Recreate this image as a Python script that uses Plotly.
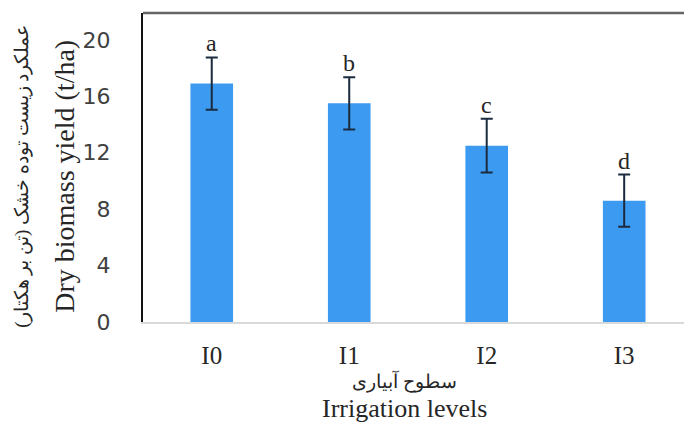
import plotly.graph_objects as go

# Irrigation treatments and dry biomass yield (t/ha)
levels = ["I0", "I1", "I2", "I3"]
yield_t_ha = [16.9, 15.5, 12.5, 8.6]
yield_err = [1.85, 1.85, 1.9, 1.85]
group_letters = ["a", "b", "c", "d"]
y_ticks = [0, 4, 8, 12, 16, 20]

BAR_BLUE = "#3c9bf0"
ERR_COLOR = "#1b2b3f"
TEXT = "#262626"
SERIF = "Times New Roman, Liberation Serif, DejaVu Serif, serif"
SANS = "DejaVu Sans, Liberation Sans, Arial, sans-serif"

fig = go.Figure()

fig.add_trace(go.Bar(
    x=list(range(len(levels))),
    y=yield_t_ha,
    width=0.31,
    marker=dict(color=BAR_BLUE, line=dict(width=0)),
    error_y=dict(type="data", array=yield_err, visible=True,
                 color=ERR_COLOR, thickness=2, width=6),
    showlegend=False,
    hoverinfo="skip",
))

# significance letters above each error bar
for i, (v, e, lt) in enumerate(zip(yield_t_ha, yield_err, group_letters)):
    fig.add_annotation(
        x=i, y=v + e, text=lt, showarrow=False,
        yanchor="bottom", yshift=-1,
        font=dict(family=SERIF, size=24, color=TEXT),
    )

# x axis titles (Persian + English)
fig.add_annotation(
    xref="paper", yref="paper", x=0.484, y=0, yshift=-59,
    text="سطوح آبیاری", showarrow=False, yanchor="middle",
    font=dict(family=SERIF, size=19, color=TEXT),
)
fig.add_annotation(
    xref="paper", yref="paper", x=0.484, y=0, yshift=-86,
    text="Irrigation levels", showarrow=False, yanchor="middle",
    font=dict(family=SERIF, size=26, color=TEXT),
)

# y axis titles (Persian + English), rotated
fig.add_annotation(
    xref="paper", yref="paper", x=0, xshift=-121, y=0.47,
    text="عملکرد زیست توده خشک (تن بر هکتار)", showarrow=False,
    textangle=-90, xanchor="center",
    font=dict(family=SERIF, size=19, color=TEXT),
)
fig.add_annotation(
    xref="paper", yref="paper", x=0, xshift=-78, y=0.47,
    text="Dry biomass yield (t/ha)", showarrow=False,
    textangle=-90, xanchor="center",
    font=dict(family=SERIF, size=28, color=TEXT),
)

fig.update_layout(
    width=684, height=424,
    margin=dict(l=143, r=0, t=13, b=102),
    paper_bgcolor="white", plot_bgcolor="white",
    xaxis=dict(
        range=[-0.5, 3.435],
        tickmode="array", tickvals=list(range(len(levels))), ticktext=levels,
        tickfont=dict(family=SERIF, size=25, color=TEXT),
        showgrid=False, zeroline=False,
        showline=True, linecolor="#d9d9d9", linewidth=2,
        ticks="", ticklabelstandoff=10,
    ),
    yaxis=dict(
        range=[0, 21.9],
        tickmode="array", tickvals=y_ticks,
        tickfont=dict(family=SANS, size=22, color="#404040"),
        showgrid=False, zeroline=False,
        showline=True, linecolor="#111111", linewidth=2,
        ticks="", ticklabelstandoff=26,
    ),
    shapes=[dict(type="line", xref="paper", yref="paper",
                 x0=0, x1=1, y0=1, y1=1,
                 line=dict(color="#666666", width=2.5))],
)

fig.write_html("out.html")
